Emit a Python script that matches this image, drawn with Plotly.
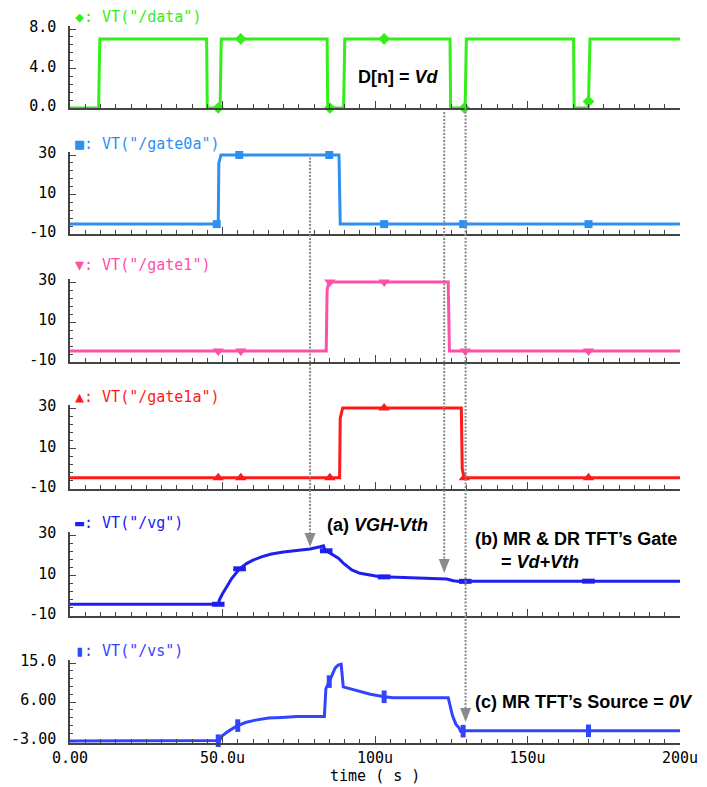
import numpy as np
import plotly.graph_objects as go

# ---------------- data ----------------
data_t = [0, 9.4, 9.6, 9.8, 44.8, 45.0, 49.2, 49.4, 49.6, 84.3, 84.5, 89.7, 89.9, 90.1,
          124.6, 124.8, 129.55, 129.75, 129.95, 165.1, 165.3, 169.95, 170.25, 170.5, 200]
data_v = [0, 0, 4, 7, 7, 0, 0, 4, 7, 7, 0, 0, 4, 7, 7, 0, 0, 4, 7, 7, 0, 0, 4, 7, 7]
data_mark_t = [48.6, 56.0, 85.2, 103.0, 129.3, 170.0]

gate0a_t = [0, 48.6, 48.8, 49.5, 88.2, 88.6, 200]
gate0a_v = [-5, -5, 26, 30, 30, -5, -5]
gate0a_mark_t = [48.1, 55.5, 85.0, 103.0, 128.9, 170.0]

gate1_t = [0, 84.0, 84.3, 84.9, 124.0, 124.4, 200]
gate1_v = [-4.5, -4.5, 26, 30, 30, -4.5, -4.5]
gate1_mark_t = [48.6, 56.0, 85.2, 103.0, 129.6, 170.0]

gate1a_t = [0, 88.4, 88.6, 89.4, 128.3, 128.6, 129.2, 200]
gate1a_v = [-4.5, -4.5, 25, 30, 30, 0, -4.5, -4.5]
gate1a_mark_t = [48.6, 56.0, 85.2, 103.0, 129.3, 170.0]

vg_t = [0, 48.6, 49.0, 49.3, 50.0, 51.1, 53.0, 55.6, 58.0, 60.0, 63.0, 66.0, 70.0, 74.3,
        78.7, 82.0, 83.1, 83.6, 85.2, 88.0, 89.6, 92.4, 95.1, 97.8, 101.6, 107.0, 112.6,
        118.0, 123.5, 125.7, 128.4, 130.0, 150.0, 170.0, 200.0]
vg_v = [-4.2, -4.2, -2.0, -1.3, 1.0, 3.7, 8.5, 13.3, 16.0, 17.6, 19.3, 20.6, 21.6, 22.3,
        23.1, 24.2, 24.7, 22.6, 21.0, 18.5, 16.1, 12.8, 11.1, 10.3, 9.4, 9.1, 8.9,
        8.7, 8.3, 7.4, 6.9, 7.2, 7.2, 7.2, 7.2]
vg_mark_t = [48.6, 55.6, 84.0, 103.0, 129.6, 170.0]

vs_t = [0, 47.8, 49.0, 49.9, 52.1, 54.8, 57.5, 60.8, 65.1, 69.5, 74.4, 83.4, 83.6, 83.9,
        85.2, 86.9, 87.9, 88.9, 89.6, 92.0, 94.0, 98.5, 103.0, 106.0, 124.0, 124.5,
        125.4, 126.5, 127.6, 128.1, 130.0, 200]
vs_v = [-3.0, -3.0, -2.9, -1.8, -0.66, 0.5, 1.26, 1.82, 2.29, 2.44, 2.67, 2.67, 4.8, 9.1,
        11.0, 13.8, 14.5, 14.7, 9.5, 9.0, 8.7, 7.8, 7.2, 7.0, 7.0, 5.2,
        2.85, 0.9, -0.02, -0.8, -0.65, -0.65]
vs_mark_t = [48.6, 55.0, 85.0, 103.0, 128.9, 170.0]

x_tick_vals = [0, 50, 100, 150, 200]
x_tick_text = ["0.00", "50.0u", "100u", "150u", "200u"]

arrow_t = [78.7, 122.7, 129.7]

# ---------------- geometry / style ----------------
W, H = 707, 787
X0, X1 = 70, 680
AXC = "#444444"
TICKFONT = dict(family="DejaVu Sans Mono", size=15, color="#000000")
LEGFONT_FAM = "DejaVu Sans Mono"
ANNFONT = dict(family="Liberation Sans", size=18, color="#000000")


def py(p):
    return 1 - p / H


def px(p):
    return p / W


panels = [
    dict(t=data_t, v=data_v, mt=data_mark_t, color="#33EE1A",
         label='◆: VT("/data")', sym="diamond", msize=9,
         tv=[0, 4, 8], tt=["0.0", "4.0", "8.0"], mdt=0.8, m0=0,
         vtop=8, ptop=29, vbot=0, pbot=108, padb=0, leg=17),
    dict(t=gate0a_t, v=gate0a_v, mt=gate0a_mark_t, color="#2F8FF0",
         label='■: VT("/gate0a")', sym="square", msize=8,
         tv=[-10, 10, 30], tt=["-10", "10", "30"], mdt=4, m0=-10,
         vtop=30, ptop=155, vbot=-10, pbot=234, padb=0, leg=144),
    dict(t=gate1_t, v=gate1_v, mt=gate1_mark_t, color="#FF4FA8",
         label='▼: VT("/gate1")', sym="triangle-down", msize=10,
         tv=[-10, 10, 30], tt=["-10", "10", "30"], mdt=4, m0=-10,
         vtop=30, ptop=282, vbot=-10, pbot=362, padb=0, leg=265),
    dict(t=gate1a_t, v=gate1a_v, mt=gate1a_mark_t, color="#FF1A1A",
         label='▲: VT("/gate1a")', sym="triangle-up", msize=10,
         tv=[-10, 10, 30], tt=["-10", "10", "30"], mdt=4, m0=-10,
         vtop=30, ptop=408, vbot=-10, pbot=489, padb=0, leg=397),
    dict(t=vg_t, v=vg_v, mt=vg_mark_t, color="#2020EE",
         label='▬: VT("/vg")', sym="line-ew", msize=9,
         tv=[-10, 10, 30], tt=["-10", "10", "30"], mdt=4, m0=-10,
         vtop=30, ptop=535, vbot=-10, pbot=616, padb=0, leg=523),
    dict(t=vs_t, v=vs_v, mt=vs_mark_t, color="#3344FF",
         label='▮: VT("/vs")', sym="line-ns", msize=9,
         tv=[-3, 6, 15], tt=["-3.00", "6.00", "15.0"], mdt=1.8, m0=-3,
         vtop=15, ptop=663, vbot=-3, pbot=741, padb=2, leg=651),
]

fig = go.Figure()
layout = dict(width=W, height=H, margin=dict(l=0, r=0, t=0, b=0, pad=0, autoexpand=False),
              paper_bgcolor="white", plot_bgcolor="white", showlegend=False)
annotations = []
shapes = []

for i, p in enumerate(panels, start=1):
    xa = "x" if i == 1 else f"x{i}"
    ya = "y" if i == 1 else f"y{i}"
    t = np.array(p["t"], dtype=float)
    v = np.array(p["v"], dtype=float)
    fig.add_trace(go.Scatter(x=t, y=v, mode="lines", xaxis=xa, yaxis=ya,
                             line=dict(color=p["color"], width=3), hoverinfo="skip"))
    mt = np.array(p["mt"], dtype=float)
    mv = np.interp(mt, t, v)
    if p["sym"].startswith("line"):
        marker = dict(symbol=p["sym"], size=p["msize"], color=p["color"],
                      line=dict(color=p["color"], width=5))
    else:
        marker = dict(symbol=p["sym"], size=p["msize"], color=p["color"],
                      line=dict(width=0))
    fig.add_trace(go.Scatter(x=mt, y=mv, mode="markers", xaxis=xa, yaxis=ya,
                             marker=marker, cliponaxis=False, hoverinfo="skip"))

    ppu = (p["pbot"] - p["ptop"]) / (p["vtop"] - p["vbot"])
    padt = 3
    rtop = p["vtop"] + padt / ppu
    rbot = p["vbot"] - p["padb"] / ppu
    layout["xaxis" if i == 1 else f"xaxis{i}"] = dict(
        domain=[px(X0), px(X1)], range=[0, 200], anchor=ya, automargin=False,
        showline=True, linecolor=AXC, linewidth=1.5, showgrid=False, zeroline=False,
        ticks="inside", ticklen=7, tickwidth=1.2, tickcolor=AXC,
        tickmode="array", tickvals=x_tick_vals, ticktext=x_tick_text,
        showticklabels=(i == 6), tickfont=TICKFONT, ticklabelstandoff=0,
        minor=dict(ticks="inside", ticklen=4, tickwidth=1, tickcolor=AXC,
                   dtick=5, tick0=0, showgrid=False),
    )
    layout["yaxis" if i == 1 else f"yaxis{i}"] = dict(
        domain=[py(p["pbot"] + p["padb"]), py(p["ptop"] - padt)],
        range=[rbot, rtop], anchor=xa, automargin=False,
        showline=True, linecolor=AXC, linewidth=1.5, showgrid=False, zeroline=False,
        ticks="inside", ticklen=6, tickwidth=1.2, tickcolor=AXC,
        tickmode="array", tickvals=p["tv"], ticktext=p["tt"],
        tickfont=TICKFONT, ticklabelstandoff=9, ticklabelshift=-2,
        minor=dict(ticks="inside", ticklen=3, tickwidth=1, tickcolor=AXC,
                   dtick=p["mdt"], tick0=p["m0"], showgrid=False),
    )
    annotations.append(dict(text=p["label"], xref="paper", yref="paper",
                            x=px(73), y=py(p["leg"]), xanchor="left", yanchor="middle",
                            showarrow=False,
                            font=dict(family=LEGFONT_FAM, size=15, color=p["color"])))

# x-axis title
annotations.append(dict(text="time ( s )", xref="paper", yref="paper",
                        x=px((X0 + X1) / 2), y=py(776), xanchor="center", yanchor="middle",
                        showarrow=False, font=dict(family="DejaVu Sans Mono", size=15,
                                                   color="#000000")))

# bold labels
annotations += [
    dict(text="<b>D[n] = <i>Vd</i></b>", x=px(398.5), y=py(77), xanchor="center"),
    dict(text="<b>(a) <i>VGH-Vth</i></b>", x=px(377.5), y=py(525), xanchor="center"),
    dict(text="<b>(b) MR &amp; DR TFT’s Gate</b>", x=px(472.5), y=py(539), xanchor="left"),
    dict(text="<b>= <i>Vd+Vth</i></b>", x=px(499), y=py(561.5), xanchor="left"),
    dict(text="<b>(c) MR TFT’s Source = <i>0V</i></b>", x=px(473), y=py(701.5), xanchor="left"),
]
for a in annotations[-5:]:
    a.update(xref="paper", yref="paper", yanchor="middle", showarrow=False, font=ANNFONT)

# dotted arrows
upp = 200 / (X1 - X0)  # data units per pixel on the time axis
arrows = [(arrow_t[0], 154, 547), (arrow_t[1], 112, 573), (arrow_t[2], 108, 722)]
GRAY = "#8A8A8A"
for tx, p_start, p_tip in arrows:
    head_h = 14
    half_w = 5.5 * upp
    shapes.append(dict(type="line", xref="x6", yref="paper", x0=tx, x1=tx,
                       y0=py(p_start), y1=py(p_tip - head_h + 1),
                       line=dict(color=GRAY, width=2, dash="2px,1.5px")))
    shapes.append(dict(type="path", xref="x6", yref="paper",
                       path=f"M {tx - half_w},{py(p_tip - head_h)} L {tx + half_w},{py(p_tip - head_h)} "
                            f"L {tx},{py(p_tip)} Z",
                       fillcolor=GRAY, line=dict(color=GRAY, width=0)))

layout["annotations"] = annotations
layout["shapes"] = shapes
fig.update_layout(**layout)
fig.write_html("out.html",
               post_script="document.body.style.margin='0';document.body.style.overflow='hidden';")
